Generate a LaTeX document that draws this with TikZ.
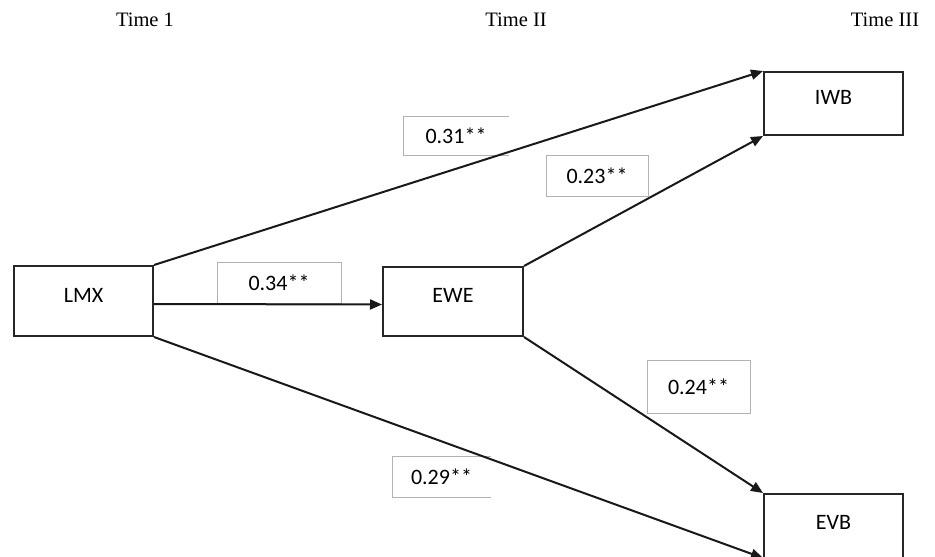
\documentclass[tikz,border=0pt]{standalone}
\usepackage{fontspec}
\setmainfont{Liberation Serif}
\newfontfamily\boxfont{Carlito}
\usetikzlibrary{arrows.meta}

\tikzset{
  varbox/.style={draw=black!85, line width=2pt, fill=white, inner sep=0pt,
    font=\boxfont\fontsize{22}{26}\selectfont, text depth=12pt},
  coefbox/.style={draw=black!30, line width=1pt, fill=white, inner sep=0pt,
    font=\boxfont\fontsize{22}{26}\selectfont},
  coefopen/.style={coefbox, draw=none},
  openedge/.style={draw=black!30, line width=1pt},
  timelabel/.style={font=\fontsize{20.5}{24}\selectfont, inner sep=0pt},
  path/.style={draw=black!90, line width=2pt,
    -{Triangle[length=12pt,width=10pt]}}
}

\begin{document}
\begin{tikzpicture}[x=1pt,y=-1pt]
\useasboundingbox (0,0) rectangle (935,557);

% wave headings
\node[timelabel] (t1)   at (145,20) {Time 1};
\node[timelabel] (t2)   at (516,20) {Time II};
\node[timelabel] (t3)   at (885,20) {Time III};

% coefficient labels
\node[coefopen, minimum width=104pt, minimum height=38pt] (c31) at (456,136) {0.31**};
\draw[openedge] (c31.north east) -- (c31.north west) -- (c31.south west) -- (c31.south east);
\node[coefbox, minimum width=102pt, minimum height=41pt] (c23) at (597,175.5) {0.23**};
\node[coefbox, minimum width=124pt, minimum height=41pt] (c34) at (279,282.5) {0.34**};
\node[coefbox, minimum width=103pt, minimum height=53pt] (c24) at (698.5,386.5) {0.24**};
\node[coefopen, minimum width=97pt, minimum height=40pt] (c29) at (441.5,477) {0.29**};
\draw[openedge] (c29.north east) -- (c29.north west) -- (c29.south west) -- (c29.south east);

% constructs
\node[varbox, minimum width=139pt, minimum height=70pt] (lmx) at (83.5,301) {LMX};
\node[varbox, minimum width=140pt, minimum height=69pt] (ewe) at (453,301.5) {EWE};
\node[varbox, minimum width=139pt, minimum height=63pt] (iwb) at (833.5,103.5) {IWB};
\node[varbox, minimum width=139pt, minimum height=69pt] (evb) at (833.5,528.5) {EVB};

% paths
\draw[path] (lmx.north east) -- (iwb.north west);
\draw[path] ([yshift=-3pt]lmx.east) -- ([yshift=-3pt]ewe.west);
\draw[path] (lmx.south east) -- ([yshift=6pt]evb.south west);
\draw[path] (ewe.north east) -- (iwb.south west);
\draw[path] (ewe.south east) -- (evb.north west);
\end{tikzpicture}
\end{document}
